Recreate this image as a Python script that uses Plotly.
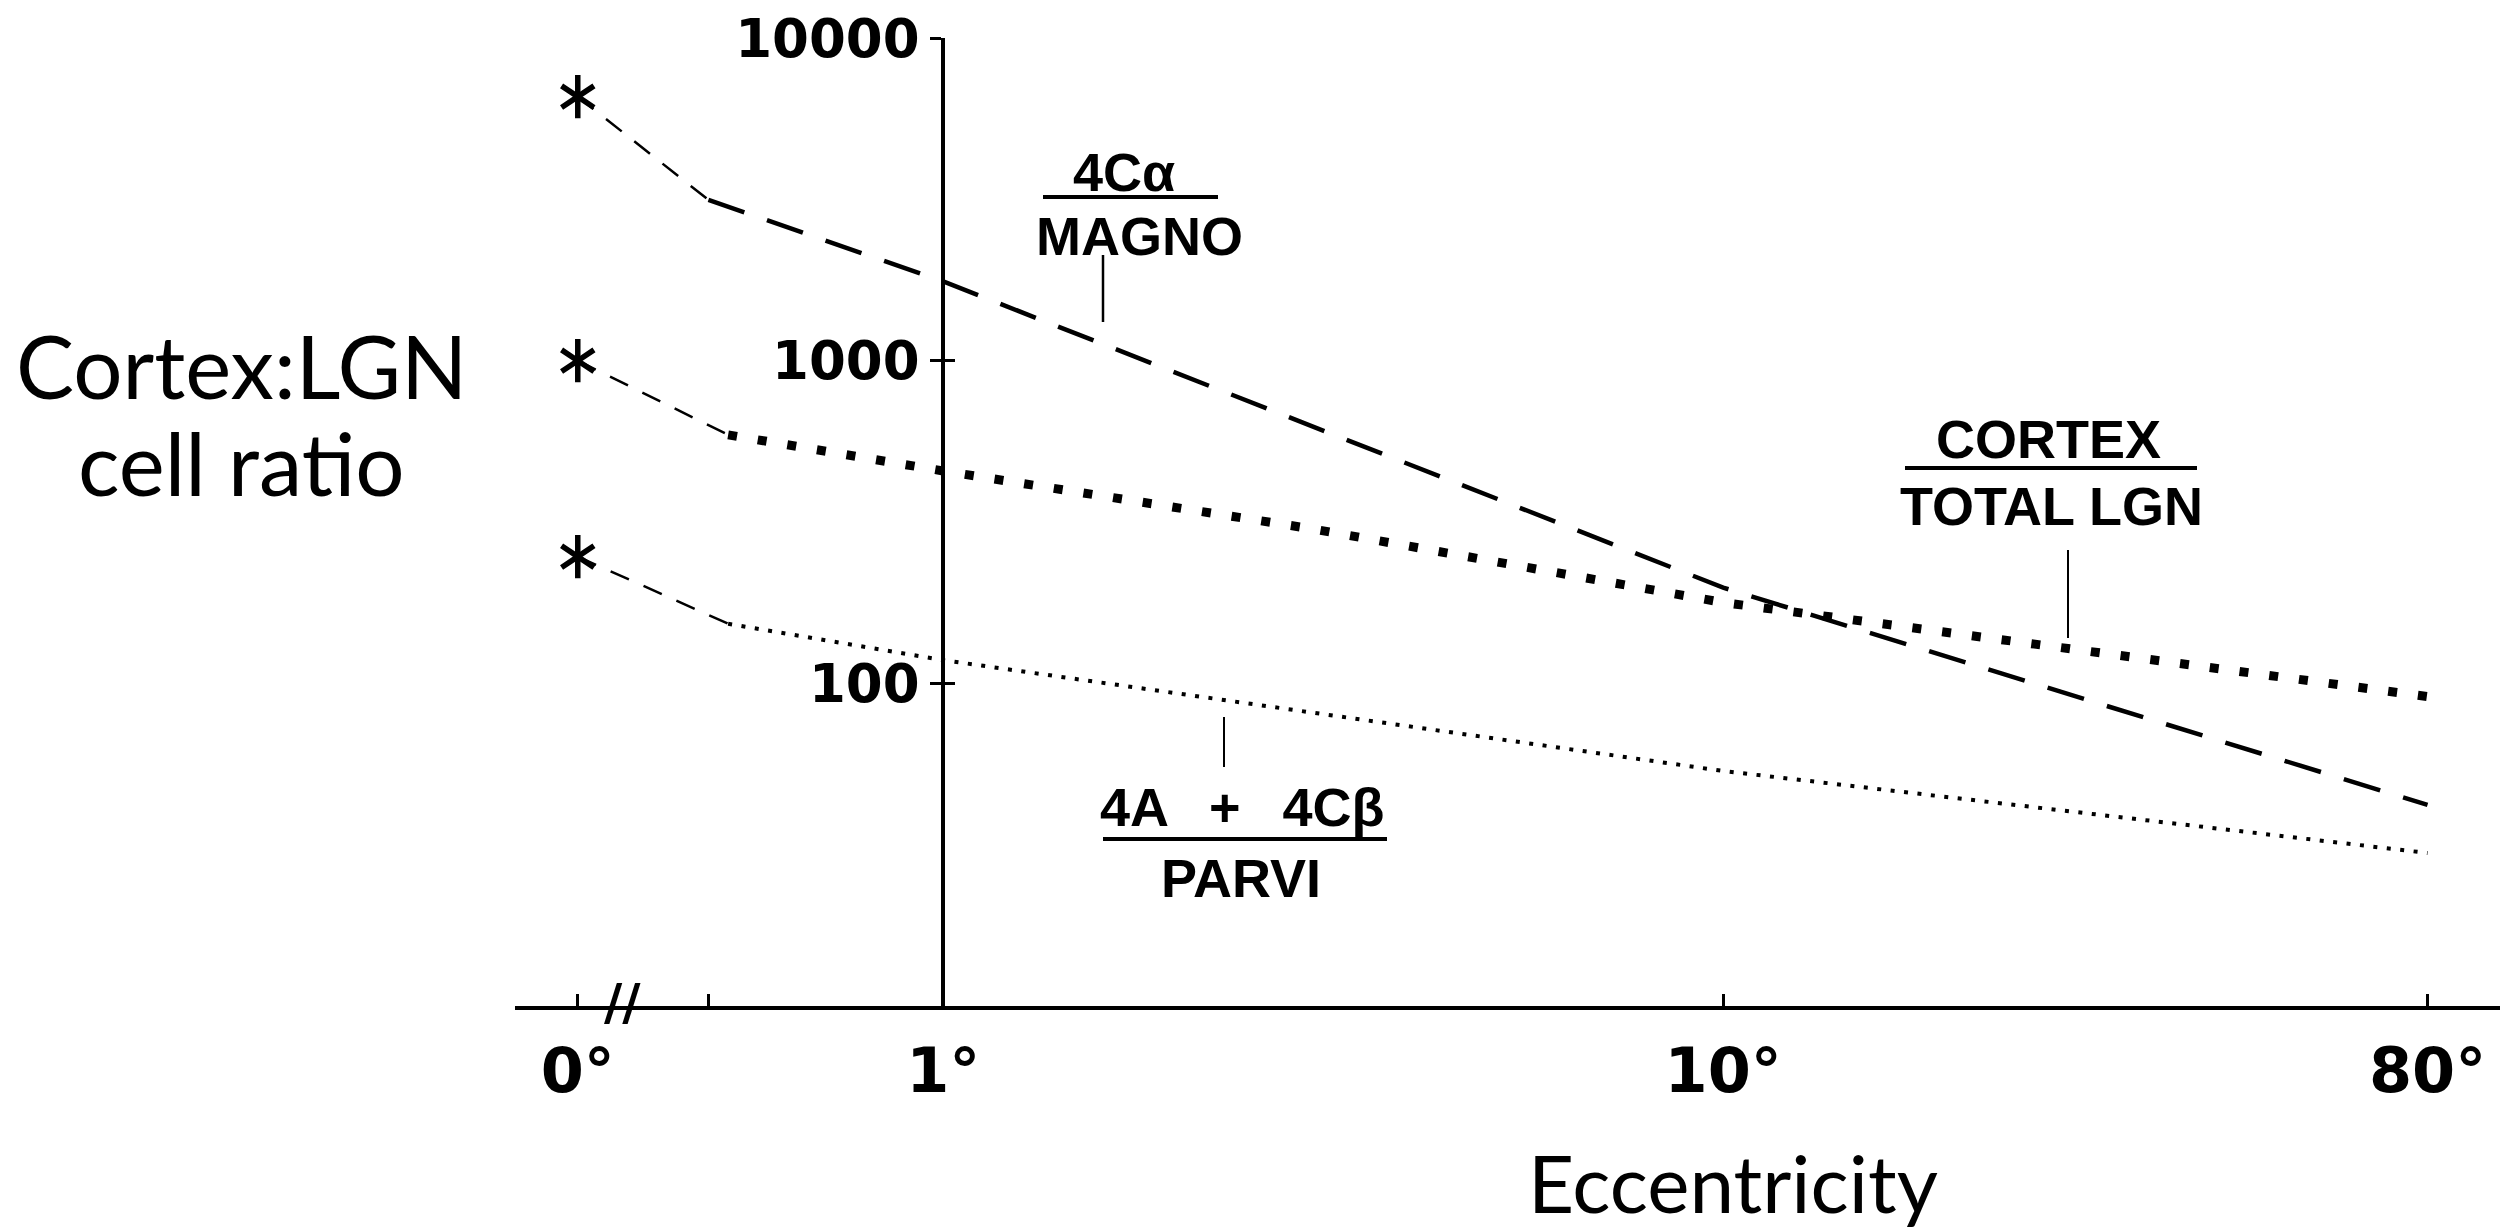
import plotly.graph_objects as go

# ---------------- data ----------------
# Eccentricity (deg) of the plotted curves, log axis
magno_x = [0.5, 1, 10, 80]
magno_y = [3150, 1760, 198, 42]          # 4Cα / MAGNO (dashed)

cortex_x = [0.53, 1, 3, 10, 80]
cortex_y = [589, 455, 300, 178, 91]      # CORTEX / TOTAL LGN (big dots)

parvi_x = [0.53, 1, 10, 80]
parvi_y = [153, 118, 53.5, 29.8]         # 4A + 4Cβ / PARVI (small dots)

# foveal (0°) values, plotted as asterisks at the broken-axis 0° position
fovea_y = [6580, 1000, 247]
ZERO_POS = 0.34                          # where "0°" sits on the broken log axis

x_tickvals = [ZERO_POS, 0.5, 1, 10, 80]
x_ticktext = ["0°", "", "1°", "10°", "80°"]
y_tickvals = [100, 1000, 10000]
y_ticktext = ["100", "1000", "10000"]

# ---------------- layout geometry ----------------
W, H = 2513, 1229
L, R, T, B = 515, 13, 38, 223
X_RANGE = [-0.549, 1.996]
Y_RANGE = [1, 4]
PW, PH = W - L - R, H - T - B


def px(x):
    return (x - L) / PW


def py(y):
    return (H - B - y) / PH


yaxis_pos = (0 - X_RANGE[0]) / (X_RANGE[1] - X_RANGE[0])

fig = go.Figure()

# thin connectors from the foveal asterisks
for fy, xs, ys in [(fovea_y[0], magno_x, magno_y),
                   (fovea_y[1], cortex_x, cortex_y),
                   (fovea_y[2], parvi_x, parvi_y)]:
    fig.add_trace(go.Scatter(x=[ZERO_POS, xs[0]], y=[fy, ys[0]], mode="lines",
                             line=dict(color="black", width=2.5, dash="20px,16px"),
                             hoverinfo="skip", showlegend=False))

fig.add_trace(go.Scatter(x=magno_x, y=magno_y, mode="lines", name="4Cα / MAGNO",
                         line=dict(color="black", width=4.5, dash="38px,24px")))
fig.add_trace(go.Scatter(x=cortex_x, y=cortex_y, mode="lines", name="CORTEX / TOTAL LGN",
                         line=dict(color="black", width=9, dash="9px,21px")))
fig.add_trace(go.Scatter(x=parvi_x, y=parvi_y, mode="lines", name="4A + 4Cβ / PARVI",
                         line=dict(color="black", width=4, dash="4px,9.5px")))

# six-armed asterisks at 0° (on overlaying y2 so its inside ticks are drawn too)
for sym in ["y-up-open", "y-down-open"]:
    fig.add_trace(go.Scatter(x=[ZERO_POS] * 3, y=fovea_y, mode="markers", yaxis="y2",
                             marker=dict(symbol=sym, size=27, color="black",
                                         line=dict(color="black", width=5.5)),
                             showlegend=False))

fig.update_layout(
    width=W, height=H,
    margin=dict(l=L, r=R, t=T, b=B, autoexpand=False),
    paper_bgcolor="white", plot_bgcolor="white",
    showlegend=False,
    xaxis=dict(type="log", range=X_RANGE, showline=True, linewidth=4, linecolor="black",
               ticks="inside", ticklen=12, tickwidth=3, tickcolor="black",
               tickvals=x_tickvals, ticktext=x_ticktext,
               tickfont=dict(family="DejaVu Sans", size=62, color="black", weight="bold"),
               ticklabelstandoff=8,
               showgrid=False, zeroline=False, automargin=False),
    yaxis=dict(type="log", range=Y_RANGE, anchor="free", position=yaxis_pos,
               showline=True, linewidth=4, linecolor="black",
               ticks="outside", ticklen=11, tickwidth=3, tickcolor="black",
               tickvals=y_tickvals, ticktext=y_ticktext,
               tickfont=dict(family="DejaVu Sans", size=53, color="black", weight="bold"),
               showgrid=False, zeroline=False, automargin=False),
    yaxis2=dict(type="log", range=Y_RANGE, overlaying="y", anchor="free", position=yaxis_pos,
                showline=False, ticks="inside", ticklen=11, tickwidth=3, tickcolor="black",
                tickvals=y_tickvals, showticklabels=False,
                showgrid=False, zeroline=False, automargin=False),
)

lab_font = dict(family="Liberation Sans", size=54, color="black", weight="bold")
title_font = dict(family="Lato", size=87, color="black")


def text(x, y, s, font):
    fig.add_annotation(x=px(x), y=py(y), xref="paper", yref="paper", text=s,
                       showarrow=False, xanchor="center", yanchor="middle", font=font)


def seg(x0, y0, x1, y1, w):
    fig.add_shape(type="line", xref="paper", yref="paper",
                  x0=px(x0), y0=py(y0), x1=px(x1), y1=py(y1),
                  line=dict(color="black", width=w))


# axis titles
text(241, 365, "Cortex:LGN", title_font)
text(241, 462, "cell ratio", title_font)
text(1733, 1182, "Eccentricity", dict(family="Lato", size=80, color="black"))

# series labels (fractions with leader lines)
text(1124, 172, "4Cα", lab_font)
seg(1043, 197, 1218, 197, 4)
text(1139, 236, "MAGNO", lab_font)
seg(1103, 255, 1103, 322, 2.5)

text(2048, 439, "CORTEX", lab_font)
seg(1905, 468, 2197, 468, 4)
text(2051, 506, "TOTAL LGN", lab_font)
seg(2068, 550, 2068, 638, 2)

text(1242, 807, "4A \u2002+ \u20024Cβ", lab_font)
seg(1103, 839, 1387, 839, 4)
text(1241, 878, "PARVI", lab_font)
seg(1224, 717, 1224, 767, 2)

# axis break mark
text(622, 1002, "//", dict(family="DejaVu Sans", size=50, color="black", weight="bold"))

fig.write_html("out.html")
